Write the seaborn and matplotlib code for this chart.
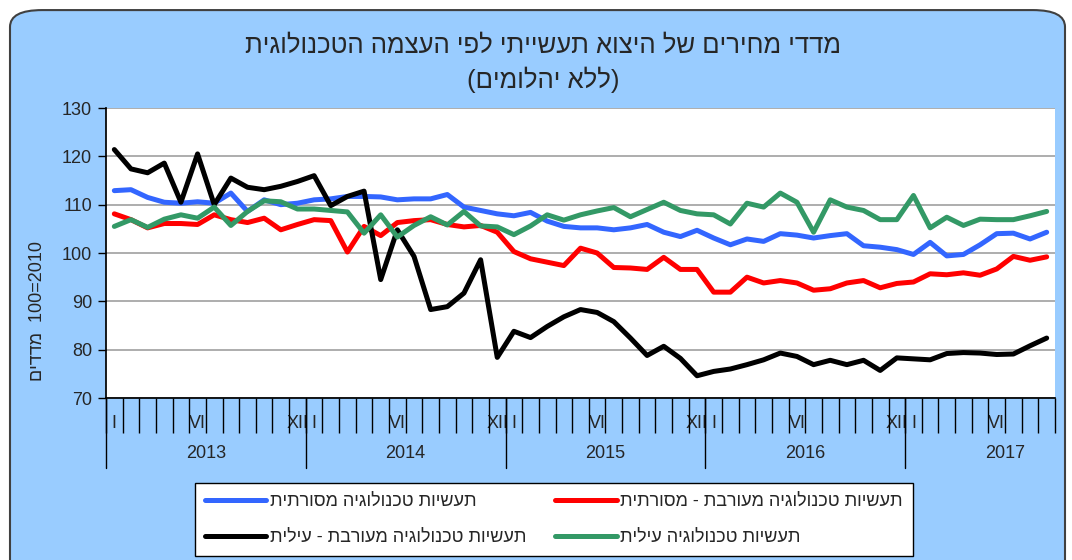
import pandas as pd
import matplotlib
matplotlib.use("Agg")
import matplotlib.pyplot as plt
import matplotlib.transforms as mtransforms
from matplotlib.patches import FancyBboxPatch
import seaborn as sns

# Monthly data, Jan 2013 .. Sep 2017
months = list(range(57))
years = ["2013", "2014", "2015", "2016", "2017"]
roman = {0: "I", 5: "VI", 11: "XII"}

traditional = [112.9, 113.1, 111.5, 110.5, 110.3, 110.6, 110.3, 112.4, 108.6, 111.0,
               110.0, 110.3, 111.0, 111.2, 111.7, 111.7, 111.6, 111.0, 111.2, 111.2,
               112.1, 109.5, 108.8, 108.1, 107.7, 108.4, 106.6, 105.5, 105.2, 105.2,
               104.8, 105.2, 105.9, 104.3, 103.4, 104.7, 103.1, 101.7, 102.9, 102.4,
               104.0, 103.7, 103.1, 103.6, 104.0, 101.5, 101.2, 100.7, 99.7, 102.2,
               99.4, 99.7, 101.7, 104.0, 104.1, 102.9, 104.3]
mixed_traditional = [108.1, 106.9, 105.2, 106.1, 106.1, 105.9, 107.9, 106.9, 106.3, 107.2,
                     104.8, 105.9, 106.9, 106.7, 100.2, 105.5, 103.6, 106.3, 106.7, 106.9,
                     105.9, 105.4, 105.7, 104.3, 100.3, 98.8, 98.1, 97.4, 101.0, 100.0,
                     97.0, 96.9, 96.6, 99.1, 96.6, 96.6, 91.9, 91.9, 95.0, 93.8,
                     94.3, 93.8, 92.3, 92.6, 93.8, 94.3, 92.8, 93.7, 94.0, 95.7,
                     95.5, 95.9, 95.4, 96.7, 99.3, 98.5, 99.2]
mixed_high = [121.4, 117.4, 116.6, 118.6, 110.5, 120.5, 110.0, 115.5, 113.6, 113.1,
              113.8, 114.8, 116.0, 109.8, 111.7, 112.8, 94.5, 104.8, 99.3, 88.3,
              88.9, 91.7, 98.6, 78.4, 83.8, 82.5, 84.8, 86.8, 88.3, 87.7,
              85.8, 82.4, 78.8, 80.7, 78.2, 74.6, 75.5, 76.0, 76.9, 77.9,
              79.3, 78.6, 76.9, 77.8, 76.9, 77.8, 75.7, 78.3, 78.1, 77.9,
              79.2, 79.4, 79.3, 79.0, 79.1, 80.8, 82.4]
high_tech = [105.5, 106.9, 105.3, 107.0, 107.9, 107.2, 109.5, 105.7, 108.6, 110.8,
             110.6, 109.1, 109.1, 108.8, 108.5, 104.1, 107.9, 103.3, 105.7, 107.5,
             105.8, 108.6, 105.6, 105.4, 103.8, 105.6, 107.9, 106.8, 107.9, 108.7,
             109.4, 107.5, 109.0, 110.5, 108.8, 108.1, 107.9, 106.0, 110.3, 109.5,
             112.4, 110.5, 104.3, 111.0, 109.5, 108.8, 106.9, 106.9, 111.9, 105.2,
             107.4, 105.7, 107.0, 106.9, 106.9, 107.7, 108.6]

names = ["תעשיות טכנולוגיה מסורתית",
         "תעשיות טכנולוגיה מעורבת - מסורתית",
         "תעשיות טכנולוגיה מעורבת - עילית",
         "תעשיות טכנולוגיה עילית"]
colors = ["#3366FF", "#FF0000", "#000000", "#339966"]


def visual(s):
    # matplotlib lays text out left to right, so give Hebrew in display order
    mirror = {"(": ")", ")": "("}
    return "".join(mirror.get(c, c) for c in s[::-1])


df = pd.concat([
    pd.DataFrame({"month": months, "value": vals, "series": visual(n)})
    for n, vals in zip(names, [traditional, mixed_traditional, mixed_high, high_tech])
])

sns.set_theme(style="white")
plt.rcParams["font.family"] = ["Liberation Sans", "DejaVu Sans"]

fig = plt.figure(figsize=(10.72, 5.6), dpi=100)
fig.patch.set_facecolor("white")
bg = FancyBboxPatch((10 / 1072, -0.05), 1055 / 1072, 1.032,
                    boxstyle="round,pad=0,rounding_size=0.03",
                    transform=fig.transFigure, facecolor="#99CCFF",
                    edgecolor="#404040", linewidth=1.5, zorder=-10)
fig.patches.append(bg)

ax = fig.add_axes([106 / 1072, 1 - 398 / 560, 949 / 1072, 290 / 560])
ax.set_facecolor("white")

sns.lineplot(data=df, x="month", y="value", hue="series",
             palette=colors, linewidth=3.6, ax=ax, legend=False,
             estimator=None, sort=False)

ax.set_xlim(-0.5, 56.5)
ax.set_ylim(70, 130)
ax.set_yticks(range(70, 131, 10))
ax.yaxis.grid(True, color="#A0A0A0", linewidth=1.2)
ax.set_axisbelow(True)
ax.tick_params(axis="y", direction="out", length=6, width=1, color="black",
               labelsize=13, left=True, pad=4)
for s in ["right", "top"]:
    ax.spines[s].set_visible(False)
ax.spines["left"].set_color("black")
ax.spines["bottom"].set_color("black")

# month labels
ax.set_xticks(months)
ax.set_xticklabels([roman.get(m % 12, "") for m in months])
ax.tick_params(axis="x", length=0, labelsize=13, pad=12)
ax.set_xticks([m - 0.5 for m in months] + [56.5], minor=True)
ax.tick_params(axis="x", which="minor", bottom=True, direction="out",
               length=25, width=1, color="black")
ax.set_xlabel("")

trans = mtransforms.blended_transform_factory(ax.transData, ax.transAxes)
for i, y in enumerate(years):
    b = i * 12 - 0.5
    ax.plot([b, b], [0, -0.24], transform=trans, clip_on=False, color="black", linewidth=1)
    ax.text(i * 12 + 5.5, -0.19, y, transform=trans, ha="center", va="center", fontsize=13)

ax.set_ylabel(visual("מדדים") + "  100=2010", fontsize=13)
ax.yaxis.set_label_coords(-0.063, 0.30)

fig.text(543 / 1072, 1 - 46 / 560, visual("מדדי מחירים של היצוא תעשייתי לפי העצמה הטכנולוגית"),
         ha="center", va="center", fontsize=18.5)
fig.text(543 / 1072, 1 - 80 / 560, visual("(ללא יהלומים)"),
         ha="center", va="center", fontsize=18.5)

handles = ax.get_lines()[:4]
order = [0, 2, 1, 3]
leg = fig.legend([handles[i] for i in order], [visual(names[i]) for i in order],
                 loc="upper left", bbox_to_anchor=(195 / 1072, 1 - 483 / 560),
                 borderaxespad=0, ncol=2, fontsize=13, frameon=True, fancybox=False,
                 framealpha=1, edgecolor="black", handlelength=3.4, handletextpad=0.2,
                 columnspacing=1.6, labelspacing=1.05, borderpad=0.55)
leg.get_frame().set_linewidth(1.0)

fig.savefig("out.png", dpi=100)
